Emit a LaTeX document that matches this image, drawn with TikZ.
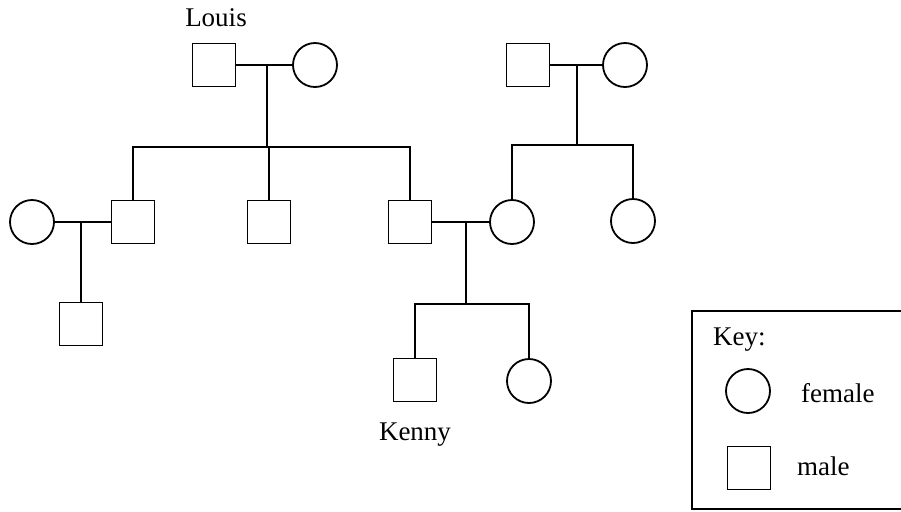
\documentclass[tikz,border=0pt]{standalone}
\usepackage{fontspec}
\setmainfont{Liberation Serif}
\usepackage{tikz}
\usetikzlibrary{positioning}
\tikzset{
    pednode/.style={draw, line width=0.9pt, inner sep=0pt},
    malenode/.style={pednode, rectangle, minimum size=21.5pt},
    femalenode/.style={pednode, circle, minimum size=22pt},
    matingline/.style={line width=0.9pt},
    kinline/.style={line width=0.6pt},
    pedlabel/.style={font=\fontsize{13.5}{16}\selectfont}
}
\begin{document}
\begin{tikzpicture}[x=0.5pt, y=-0.5pt]
    \useasboundingbox (0,0) rectangle (901,511);
    % first generation
    \node[malenode] (louis) at (214,65) {};
    \node[femalenode] (louisw) at (315,65) {};
    \node[malenode] (gpa) at (528,65) {};
    \node[femalenode] (gma) at (625,65) {};
    \node[pedlabel] (louislab) at (216,18) {Louis};
    % second generation
    \node[femalenode] (sonaw) at (32,222) {};
    \node[malenode] (sona) at (133,222) {};
    \node[malenode] (sonb) at (269,222) {};
    \node[malenode] (sonc) at (410,222) {};
    \node[femalenode] (soncw) at (512,222) {};
    \node[femalenode] (aunt) at (633,221) {};
    % third generation
    \node[malenode] (grandson) at (81,324) {};
    \node[malenode] (kenny) at (415,380) {};
    \node[femalenode] (sister) at (529,381) {};
    \node[pedlabel] (kennylab) at (415,435) {Kenny};
    % junction points
    \coordinate (mtop) at (267,65);
    \coordinate (sibtop) at (267,147);
    \coordinate (mright) at (577,65);
    \coordinate (sibright) at (577,145);
    \coordinate (mleft) at (81,222);
    \coordinate (mmid) at (466,222);
    \coordinate (sibmid) at (466,304);
    % matings
    \draw[matingline] (louis) -- (louisw);
    \draw[matingline] (gpa) -- (gma);
    \draw[matingline] (sonaw) -- (sona);
    \draw[matingline] (sonc) -- (soncw);
    % descent
    \draw[kinline] (mtop) -- (sibtop);
    \draw[kinline] (sona.north) |- (sibtop) -| (sonc.north);
    \draw[kinline] (sonb.north) -- (sonb.north |- sibtop);
    \draw[kinline] (mright) -- (sibright);
    \draw[kinline] (soncw.north) |- (sibright) -| (aunt.north);
    \draw[matingline] (mleft) -- (grandson.north);
    \draw[kinline] (mmid) -- (sibmid);
    \draw[kinline] (kenny.north) |- (sibmid) -| (sister.north);
    % key
    \coordinate (keytl) at (692,311);
    \coordinate (keybl) at (692,509);
    \draw[line width=0.6pt] (901,311) -- (keytl) -- (keybl) -- (901,509);
    \node[pedlabel, anchor=west] (keylab) at (706,340) {Key:};
    \node[femalenode] (keyf) at (748,391) {};
    \node[pedlabel, anchor=west] (keyflab) at (794,393) {female};
    \node[malenode] (keym) at (749,468) {};
    \node[pedlabel, anchor=west] (keymlab) at (790,466) {male};
\end{tikzpicture}
\end{document}
